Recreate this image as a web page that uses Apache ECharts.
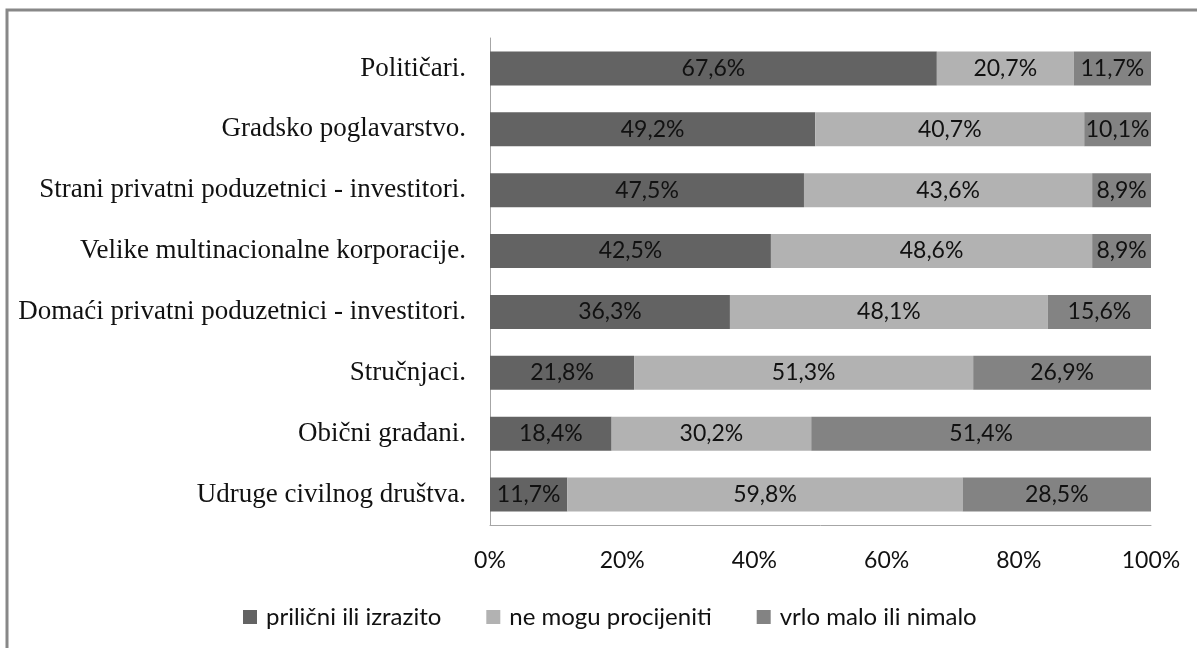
<!DOCTYPE html>
<html>
<head>
<meta charset="utf-8">
<script src="https://cdn.jsdelivr.net/npm/echarts@6/dist/echarts.min.js"></script>
<style>
  html, body { margin: 0; padding: 0; background: #fff; }
  #chart { width: 1197px; height: 648px; }
</style>
</head>
<body>
<div id="chart"></div>
<script>
const categories = [
  'Političari.',
  'Gradsko poglavarstvo.',
  'Strani privatni poduzetnici - investitori.',
  'Velike multinacionalne korporacije.',
  'Domaći privatni poduzetnici - investitori.',
  'Stručnjaci.',
  'Obični građani.',
  'Udruge civilnog društva.'
];
const seriesNames = ['prilični ili izrazito', 'ne mogu procijeniti', 'vrlo malo ili nimalo'];
const prilicni = [67.6, 49.2, 47.5, 42.5, 36.3, 21.8, 18.4, 11.7];
const neMogu = [20.7, 40.7, 43.6, 48.6, 48.1, 51.3, 30.2, 59.8];
const vrloMalo = [11.7, 10.1, 8.9, 8.9, 15.6, 26.9, 51.4, 28.5];
const colors = ['#636363', '#b2b2b2', '#838383'];

const numFont = 'Lato';
const chart = echarts.init(document.getElementById('chart'));

function makeSeries(name, data, color) {
  return {
    name: name,
    type: 'bar',
    stack: 'total',
    barWidth: '56%',
    data: data,
    itemStyle: { color: color },
    label: {
      show: true,
      position: 'inside',
      color: '#111',
      fontFamily: numFont,
      fontSize: 23,
      formatter: p => p.value.toFixed(1).replace('.', ',') + '%'
    }
  };
}

chart.setOption({
  animation: false,
  graphic: [{
    type: 'rect',
    shape: { x: 7, y: 10, width: 1400, height: 800 },
    style: { fill: 'none', stroke: '#888', lineWidth: 3 },
    silent: true
  }],
  grid: { left: 490, right: 46, top: 38, bottom: 123 },
  legend: {
    bottom: 14,
    left: 238,
    itemWidth: 14,
    itemHeight: 14,
    itemGap: 45,
    icon: 'rect',
    textStyle: { fontFamily: numFont, fontSize: 24, color: '#111', padding: [0, 0, 0, 4] },
    data: seriesNames
  },
  xAxis: {
    type: 'value',
    min: 0,
    max: 100,
    interval: 20,
    axisLine: { show: true, lineStyle: { color: '#a6a6a6' } },
    axisTick: { show: false },
    splitLine: { show: false },
    axisLabel: {
      formatter: '{value}%',
      margin: 24,
      color: '#111',
      fontFamily: numFont,
      fontSize: 23
    }
  },
  yAxis: {
    type: 'category',
    inverse: true,
    data: categories,
    axisLine: { show: true, lineStyle: { color: '#a6a6a6' } },
    axisTick: { show: false },
    axisLabel: {
      margin: 24,
      color: '#111',
      fontFamily: 'Liberation Serif',
      fontSize: 27
    }
  },
  series: [
    makeSeries(seriesNames[0], prilicni, colors[0]),
    makeSeries(seriesNames[1], neMogu, colors[1]),
    makeSeries(seriesNames[2], vrloMalo, colors[2])
  ]
});
</script>
</body>
</html>
